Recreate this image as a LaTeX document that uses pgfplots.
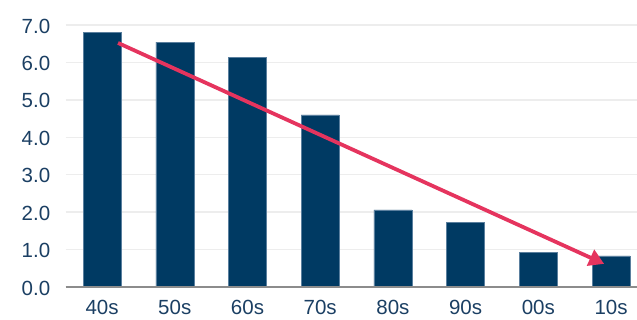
\documentclass[border=0pt]{standalone}
\usepackage{pgfplots}
\pgfplotsset{compat=1.18}
\usepackage{fontspec}
\setmainfont{Liberation Sans}
\usetikzlibrary{arrows.meta}
\definecolor{barblue}{HTML}{003A63}
\definecolor{baredge}{HTML}{5A7F9E}
\definecolor{arrowred}{HTML}{E5345E}
\definecolor{txt}{HTML}{1B3F63}
\definecolor{gridc}{HTML}{EDEDED}
\begin{document}
\begin{tikzpicture}
\useasboundingbox (0,0) rectangle (637pt,320pt);
\begin{axis}[
  at={(65.7pt,33pt)}, anchor=south west,
  scale only axis,
  width=571.3pt, height=262pt,
  xmin=-0.5, xmax=7.357,
  ymin=0, ymax=7,
  axis line style={draw=none},
  axis x line*=bottom,
  ytick={0,1,...,7},
  yticklabel style={/pgf/number format/fixed, /pgf/number format/fixed zerofill, /pgf/number format/precision=1, xshift=-12pt, yshift=-1pt},
  /pgf/number format/assume math mode=true,
  xtick={0,...,7},
  xticklabels={40s,50s,60s,70s,80s,90s,00s,10s},
  major tick length=0pt,
  ymajorgrids,
  grid style={gridc, line width=1.5pt},
  tick label style={font=\fontsize{20.5}{24}\selectfont, text=txt},
  xticklabel style={inner sep=0pt, text depth=0pt, yshift=-13pt},
  clip=false,
]
\addplot[ybar, bar width=38pt, fill=barblue, draw=baredge, line width=0.4pt]
 coordinates {(0,6.80) (1,6.54) (2,6.14) (3,4.60) (4,2.06) (5,1.73) (6,0.92) (7,0.83)};
\draw[gray!90, line width=1.5pt] (axis cs:-0.5,0) -- (axis cs:7.357,0);
\addplot[arrowred, line width=3.8pt, -{Triangle[length=15pt,width=17pt]}, shorten >=-2pt]
 coordinates {(0.22,6.52) (6.88,0.64)};
\end{axis}
\end{tikzpicture}
\end{document}
